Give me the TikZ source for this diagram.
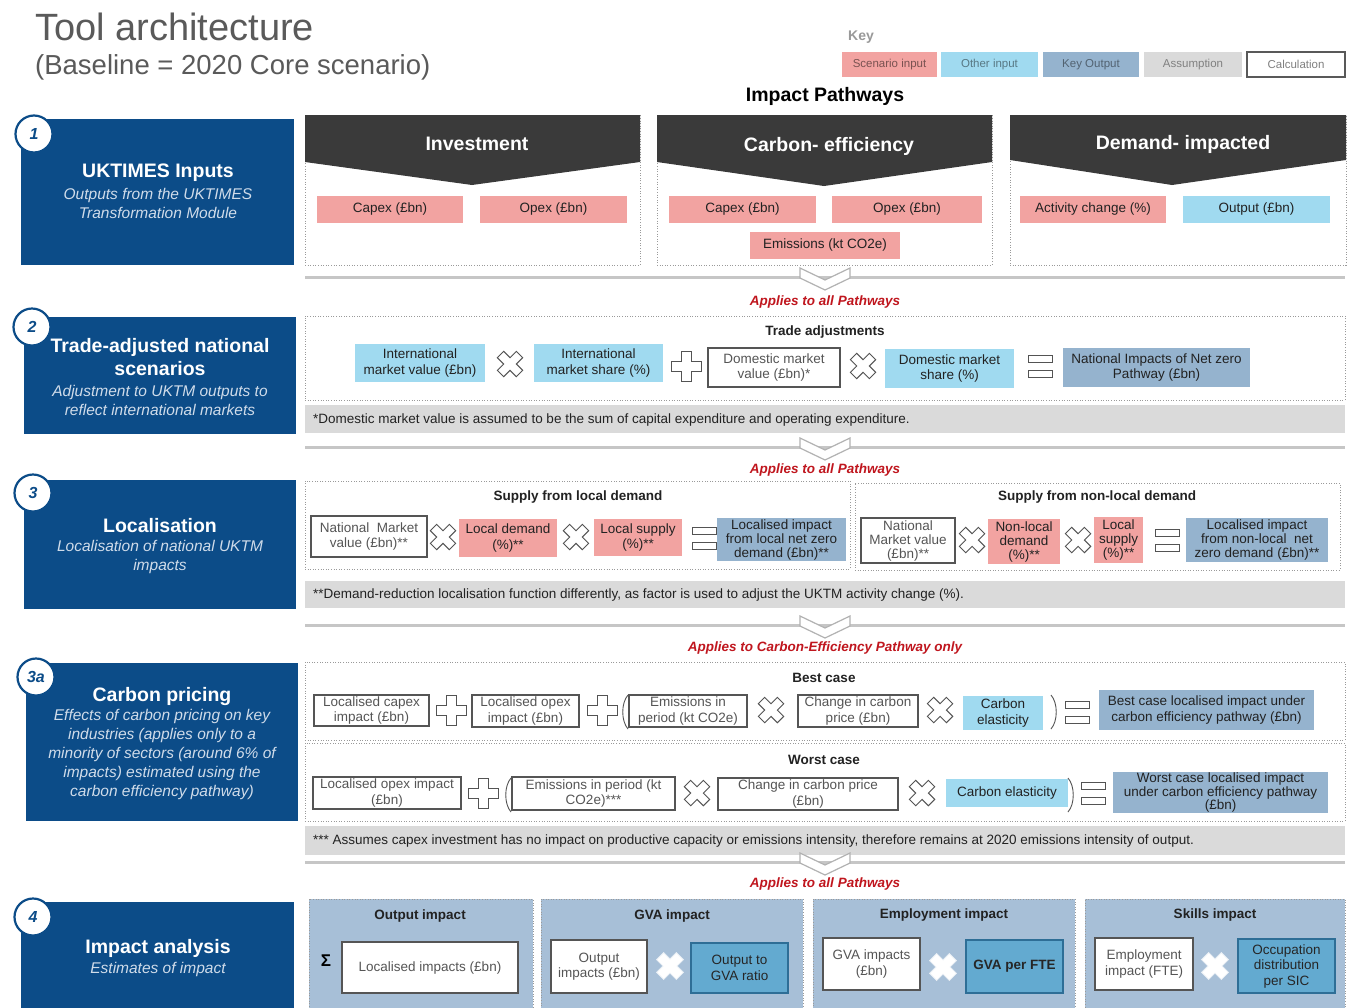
\documentclass[tikz,border=0pt]{standalone}
\usepackage{fontspec}
\setmainfont{Liberation Sans}
\definecolor{cNavy}{HTML}{0C4C88}
\definecolor{cHead}{HTML}{3A3A3A}
\definecolor{cScen}{HTML}{F2A3A1}
\definecolor{cOth}{HTML}{A0DAF0}
\definecolor{cKey}{HTML}{95B3CE}
\definecolor{cAss}{HTML}{DADADA}
\definecolor{cRow}{HTML}{A7BFD7}
\definecolor{cMid}{HTML}{63AAD0}
\definecolor{cMidB}{HTML}{2E6E96}
\definecolor{cRed}{HTML}{C0161E}
\definecolor{cDot}{HTML}{9A9A9A}
\definecolor{cTxt}{HTML}{222222}
\definecolor{cGTxt}{HTML}{555555}
\definecolor{cTitle}{HTML}{5A5A5A}
\definecolor{cSub}{HTML}{D0DCEA}
\newcommand\myfs[2]{\fontsize{#1}{#2}\selectfont}
\newcommand\mkbox[7]{%
  \pgfmathsetmacro\mkbw{#5-#3}%
  \pgfmathsetmacro\mkbh{#6-#4}%
  \pgfmathsetmacro\mkbx{(#3+#5)/2}%
  \pgfmathsetmacro\mkby{(#4+#6)/2}%
  \node[#1,minimum width=\mkbw pt,minimum height=\mkbh pt] (#2) at (\mkbx,\mkby) {#7};%
}
\tikzset{
  box/.style={align=center, inner sep=1pt, outer sep=0pt, font=\myfs{13.5}{15.5}, text=cTxt},
  three/.style={font=\myfs{13.5}{14}},
  scen/.style={box, fill=cScen},
  oth/.style={box, fill=cOth},
  kout/.style={box, fill=cKey},
  calc/.style={box, fill=white, draw=cGTxt, line width=1.1pt, text=cGTxt},
  mid/.style={box, fill=cMid, draw=cMidB, line width=1.2pt, text=black!85},
  keyb/.style={align=center, inner sep=0pt, font=\myfs{11.5}{13}},
  panel/.style={draw=cDot, line width=0.9pt, dash pattern=on 1pt off 1.6pt, inner sep=0pt},
  rowp/.style={fill=cRow, draw=cDot, line width=0.9pt, dash pattern=on 1pt off 1.6pt, inner sep=0pt},
  foot/.style={fill=cAss, inner sep=0pt},
  foottxt/.style={anchor=west, font=\myfs{13.5}{15}, text=cTxt, inner sep=0pt},
  applies/.style={font=\myfs{13.5}{15}\bfseries\itshape, text=cRed, inner sep=0pt},
  subh/.style={font=\myfs{13.5}{15}\bfseries, text=cTxt, inner sep=0pt},
  navy/.style={fill=cNavy, inner sep=0pt},
  num/.style={circle, draw=cNavy, fill=white, line width=2.2pt, minimum size=37pt, inner sep=0pt, font=\myfs{16}{16}\bfseries\itshape, text=cNavy},
  ltitle/.style={font=\myfs{19.5}{23}\bfseries, text=white, align=center, inner sep=0pt},
  lsub/.style={font=\myfs{15.5}{19}\itshape, text=cSub, align=center, inner sep=0pt},
  headtxt/.style={font=\myfs{19.5}{21}\bfseries, text=white, inner sep=0pt},
  opline/.style={draw=gray!65!black, fill=white, line width=0.9pt},
  opwhite/.style={draw=white!75!cRow, fill=white, line width=0.8pt},
  sepline/.style={draw=gray!45, line width=3pt},
  xop/.pic={\path[opline, rotate=45] (-4.5,13.5) -- (4.5,13.5) -- (4.5,4.5) -- (13.5,4.5) -- (13.5,-4.5) -- (4.5,-4.5) -- (4.5,-13.5) -- (-4.5,-13.5) -- (-4.5,-4.5) -- (-13.5,-4.5) -- (-13.5,4.5) -- (-4.5,4.5) -- cycle;},
  xopw/.pic={\path[opwhite, rotate=45] (-5,14) -- (5,14) -- (5,5) -- (14,5) -- (14,-5) -- (5,-5) -- (5,-14) -- (-5,-14) -- (-5,-5) -- (-14,-5) -- (-14,5) -- (-5,5) -- cycle;},
  plusop/.pic={\path[opline] (-5,15) -- (5,15) -- (5,5) -- (15,5) -- (15,-5) -- (5,-5) -- (5,-15) -- (-5,-15) -- (-5,-5) -- (-15,-5) -- (-15,5) -- (-5,5) -- cycle;},
  eqop/.pic={\path[opline] (-12,-11) rectangle (12,-4); \path[opline] (-12,4) rectangle (12,11);},
  chev/.pic={\path[draw=gray!60, fill=white, line width=1.2pt] (-25,-9) -- (0,3) -- (25,-9) -- (25,1) -- (0,13) -- (-25,1) -- cycle;},
  lpar/.pic={\draw[gray!65!black, line width=0.9pt] (4,-17) .. controls (-3,-9) and (-3,9) .. (4,17);},
  rpar/.pic={\draw[gray!65!black, line width=0.9pt] (-4,-17) .. controls (3,-9) and (3,9) .. (-4,17);}
}
\begin{document}
\begin{tikzpicture}[x=1pt,y=-1pt]
\useasboundingbox (0,0) rectangle (1351,1007);
\clip (0,0) rectangle (1351,1007);
\fill[white] (0,0) rectangle (1351,1007);

% Title
\node[anchor=west, inner sep=0pt, font=\myfs{38}{42}, text=cTitle] (title) at (35,27) {Tool architecture};
\node[anchor=west, inner sep=0pt, font=\myfs{27.5}{30}, text=cTitle] (subtitle) at (35,67) {(Baseline = 2020 Core scenario)};

% Key
\node[font=\myfs{14}{16}\bfseries, text=gray!80, inner sep=0pt] (keylbl) at (861,37) {Key};
\mkbox{keyb, fill=cScen, text=black!50!cScen}{k1}{842}{52}{937}{77}{Scenario input}
\mkbox{keyb, fill=cOth, text=black!45!cOth}{k2}{941}{52}{1038}{77}{Other input}
\mkbox{keyb, fill=cKey, text=black!45!cKey}{k3}{1043}{52}{1139}{77}{Key Output}
\mkbox{keyb, fill=cAss, text=gray}{k4}{1144}{52}{1242}{77}{Assumption}
\mkbox{keyb, fill=white, draw=gray!70!black, line width=1.2pt, text=gray}{k5}{1247}{52}{1345}{77}{Calculation}

\node[font=\myfs{19.5}{21}\bfseries, inner sep=0pt] (ip) at (825,96) {Impact Pathways};

% Left column
\mkbox{navy}{L1}{21}{119}{294}{265}{}
\mkbox{navy}{L2}{24}{317}{296}{434}{}
\mkbox{navy}{L3}{24}{480}{296}{609}{}
\mkbox{navy}{L3a}{26}{663}{298}{821}{}
\mkbox{navy}{L4}{21}{902}{294}{1015}{}
\node[num] (n1) at (34,134) {1};
\node[num] (n2) at (32,327) {2};
\node[num] (n3) at (33,493) {3};
\node[num] (n3a) at (36,677) {3a};
\node[num] (n4) at (33,917) {4};
\node[ltitle] (t1) at (158,173) {UKTIMES Inputs};
\node[lsub] (s1) at (158,203.5) {Outputs from the UKTIMES\\Transformation Module};
\node[ltitle] (t2) at (160,357.5) {Trade-adjusted national\\scenarios};
\node[lsub] (s2) at (160,400) {Adjustment to UKTM outputs to\\reflect international markets};
\node[ltitle] (t3) at (160,526) {Localisation};
\node[lsub] (s3) at (160,557) {Localisation of national UKTM\\impacts};
\node[ltitle] (t3a) at (162,696) {Carbon pricing};
\node[lsub] (s3a) at (162,754) {Effects of carbon pricing on key\\industries (applies only to a\\minority of sectors (around 6\% of\\impacts) estimated using the\\carbon efficiency pathway)};
\node[ltitle] (t4) at (158,948) {Impact analysis};
\node[lsub] (s4) at (158,969) {Estimates of impact};

% Row 1
\mkbox{panel}{P1}{305}{115}{640}{265}{}
\mkbox{panel}{P2}{657}{115}{992}{265}{}
\mkbox{panel}{P3}{1010}{115}{1346}{265}{}
\fill[cHead] (305,115) -- (640,115) -- (640,162) -- (472,185) -- (305,162) -- cycle;
\fill[cHead] (657,115) -- (992,115) -- (992,162) -- (824,186) -- (657,162) -- cycle;
\fill[cHead] (1010,115) -- (1346,115) -- (1346,160) -- (1172,185) -- (1010,160) -- cycle;
\node[headtxt] (h1) at (477,144) {Investment};
\node[headtxt] (h2) at (829,146) {Carbon- efficiency};
\node[headtxt] (h3) at (1183,144) {Demand- impacted};
\mkbox{scen}{capex1}{317}{196}{463}{223}{Capex (£bn)}
\mkbox{scen}{opex1}{480}{196}{627}{223}{Opex (£bn)}
\mkbox{scen}{capex2}{669}{196}{816}{223}{Capex (£bn)}
\mkbox{scen}{opex2}{832}{196}{982}{223}{Opex (£bn)}
\mkbox{scen}{emis1}{750}{232}{900}{259}{Emissions (kt CO2e)}
\mkbox{scen}{activ}{1020}{196}{1166}{223}{Activity change (\%)}
\mkbox{oth}{outp}{1183}{196}{1330}{223}{Output (£bn)}

\draw[sepline] (305,277) -- (1345,277);
\pic at (825,277) {chev};
\node[applies] (a1) at (825,302) {Applies to all Pathways};

% Row 2
\mkbox{panel}{P4}{305}{316}{1345}{400}{}
\node[subh] (ta) at (825,332) {Trade adjustments};
\mkbox{oth}{intv}{355}{344}{485}{382}{International\\market value (£bn)}
\pic at (510,364) {xop};
\mkbox{oth}{ints}{534}{344}{663}{382}{International\\market share (\%)}
\pic at (686,366) {plusop};
\mkbox{calc}{domv}{708}{348}{840}{387}{Domestic market\\value (£bn)*}
\pic at (863,366) {xop};
\mkbox{oth}{doms}{885}{349}{1014}{388}{Domestic market\\share (\%)}
\pic at (1040,366) {eqop};
\mkbox{kout}{nat}{1063}{348}{1250}{387}{National Impacts of Net zero\\Pathway (£bn)}
\mkbox{foot}{F2}{305}{405}{1345}{433}{}
\node[foottxt] (f2) at (313,420) {*Domestic market value is assumed to be the sum of capital expenditure and operating expenditure.};

\draw[sepline] (305,447) -- (1345,447);
\pic at (825,447) {chev};
\node[applies] (a2) at (825,470) {Applies to all Pathways};

% Row 3
\mkbox{panel}{P5}{305}{481}{850}{569}{}
\mkbox{panel}{P6}{855}{483}{1340}{570}{}
\node[subh] (sl) at (578,497) {Supply from local demand};
\node[subh] (snl) at (1097,497) {Supply from non-local demand};
\mkbox{calc}{nmv1}{311}{516}{427}{557}{National\ \ Market\\value (£bn)**}
\pic at (443,537) {xop};
\mkbox{scen}{ld}{459}{519}{557}{557}{Local demand\\(\%)**}
\pic at (576,537) {xop};
\mkbox{scen}{ls}{594}{519}{682}{556}{Local supply\\(\%)**}
\pic at (704,538) {eqop};
\mkbox{kout, three}{li1}{717}{518}{846}{561}{Localised impact\\from local net zero\\demand (£bn)**}
\mkbox{calc, three}{nmv2}{861}{518}{955}{563}{National\\Market value\\(£bn)**}
\pic at (972,540) {xop};
\mkbox{scen, three}{nld}{988}{519}{1060}{564}{Non-local\\demand\\(\%)**}
\pic at (1078,540) {xop};
\mkbox{scen, three}{ls2}{1094}{517}{1143}{563}{Local\\supply\\(\%)**}
\pic at (1167,540) {eqop};
\mkbox{kout, three}{li2}{1186}{518}{1328}{562}{Localised impact\\from non-local\ \ net\\zero demand (£bn)**}
\mkbox{foot}{F3}{305}{581}{1345}{608}{}
\node[foottxt] (f3) at (313,595) {**Demand-reduction localisation function differently, as factor is used to adjust the UKTM activity change (\%).};

\draw[sepline] (305,625) -- (1345,625);
\pic at (825,625) {chev};
\node[applies] (a3) at (825,648) {Applies to Carbon-Efficiency Pathway only};

% Row 3a
\mkbox{panel}{P7}{305}{662}{1345}{740}{}
\mkbox{panel}{P8}{305}{743}{1345}{821}{}
\node[subh] (bc) at (824,678) {Best case};
\node[subh] (wc) at (824,760) {Worst case};
\mkbox{calc}{lc}{314}{695}{429}{726}{Localised capex\\impact (£bn)}
\pic at (451,710) {plusop};
\mkbox{calc}{lo}{472}{695}{579}{727}{Localised opex\\impact (£bn)}
\pic at (602,710) {plusop};
\pic at (624,712) {lpar};
\mkbox{calc}{em}{629}{695}{747}{727}{Emissions in\\period (kt CO2e)}
\pic at (771,710) {xop};
\mkbox{calc}{ch}{798}{695}{918}{727}{Change in carbon\\price (£bn)}
\pic at (940,710) {xop};
\mkbox{oth}{ce}{963}{696}{1043}{730}{Carbon\\elasticity}
\pic at (1055,712) {rpar};
\pic at (1077,712) {eqop};
\mkbox{kout}{bo}{1099}{690}{1314}{730}{Best case localised impact under\\carbon efficiency pathway (£bn)}

\mkbox{calc}{lo2}{313}{777}{461}{809}{Localised opex impact\\(£bn)}
\pic at (483,793) {plusop};
\pic at (507,795) {lpar};
\mkbox{calc}{em2}{512}{777}{675}{810}{Emissions in period (kt\\CO2e)***}
\pic at (697,793) {xop};
\mkbox{calc}{ch2}{718}{778}{898}{810}{Change in carbon price\\(£bn)}
\pic at (922,793) {xop};
\mkbox{oth}{ce2}{946}{779}{1068}{807}{Carbon elasticity}
\pic at (1072,795) {rpar};
\pic at (1093,793) {eqop};
\mkbox{kout, font=\myfs{13.5}{13.5}}{wo}{1113}{773}{1328}{812}{Worst case localised impact\\under carbon efficiency pathway\\(£bn)}
\mkbox{foot}{F3a}{305}{826}{1345}{855}{}
\node[foottxt] (f3a) at (313,841) {*** Assumes capex investment has no impact on productive capacity or emissions intensity, therefore remains at 2020 emissions intensity of output.};

\draw[sepline] (305,862) -- (1345,862);
\pic at (825,862) {chev};
\node[applies] (a4) at (825,884) {Applies to all Pathways};

% Row 4
\mkbox{rowp}{Q1}{309}{899}{533}{1015}{}
\mkbox{rowp}{Q2}{541}{899}{803}{1015}{}
\mkbox{rowp}{Q3}{813}{899}{1075}{1015}{}
\mkbox{rowp}{Q4}{1085}{899}{1345}{1015}{}
\node[subh] (q1t) at (420,916) {Output impact};
\node[subh] (q2t) at (672,916) {GVA impact};
\node[subh] (q3t) at (944,915) {Employment impact};
\node[subh] (q4t) at (1215,915) {Skills impact};
\node[font=\myfs{17}{17}\bfseries, inner sep=0pt] (sig) at (326,961) {Σ};
\mkbox{calc}{loi}{342}{942}{518}{993}{Localised impacts (£bn)}
\mkbox{calc}{oi}{551}{940}{647}{993}{Output\\impacts (£bn)}
\pic at (670,966) {xopw};
\mkbox{mid}{og}{691}{943}{788}{993}{Output to\\GVA ratio}
\mkbox{calc}{gi}{823}{938}{920}{990}{GVA impacts\\(£bn)}
\pic at (943,967) {xopw};
\mkbox{mid, font=\myfs{13.5}{15}\bfseries}{gf}{966}{940}{1063}{993}{GVA per FTE}
\mkbox{calc}{ei}{1095}{938}{1193}{990}{Employment\\impact (FTE)}
\pic at (1215,966) {xopw};
\mkbox{mid}{oc}{1238}{939}{1335}{993}{Occupation\\distribution\\per SIC}
\end{tikzpicture}
\end{document}
